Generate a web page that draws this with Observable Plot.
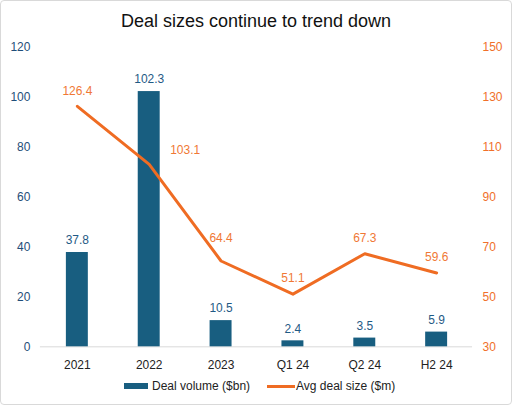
<!DOCTYPE html>
<html><head><meta charset="utf-8">
<script src="https://cdn.jsdelivr.net/npm/d3@7"></script>
<script src="https://cdn.jsdelivr.net/npm/@observablehq/plot@0.6"></script>
<style>
body{margin:0;background:#fff;font-family:"Liberation Sans",Arial,sans-serif;}
#wrap{position:relative;width:510px;height:403px;border:1px solid #d9d9d9;border-radius:4px;overflow:hidden;background:#fff}
#title{position:absolute;left:0;width:510px;top:10px;text-align:center;font-size:18px;color:#111}
#legend{position:absolute;left:0;top:377px;font-size:12px;color:#222;width:510px;height:16px}
#legend span{position:absolute}
#chart{position:absolute;left:-1px;top:-1px}
</style></head>
<body>
<div id="wrap">
<div id="chart"></div>
<div id="title">Deal sizes continue to trend down</div>
<div id="legend">
<span style="left:123px;top:5px;width:24px;height:6px;background:#185e80"></span><span style="left:151px;top:1px">Deal volume ($bn)</span>
<span style="left:266px;top:7px;width:28px;height:3px;background:#ef6c23"></span><span style="left:295px;top:1px">Avg deal size ($m)</span>
</div>
</div>
<script>
const categories = ["2021","2022","2023","Q1 24","Q2 24","H2 24"];
const dealVolume = [37.8,102.3,10.5,2.4,3.5,5.9];
const avgDealSize = [126.4,103.1,64.4,51.1,67.3,59.6];
const leftTicks = [0,20,40,60,80,100,120];
const rightTicks = [30,50,70,90,110,130,150];

const rightMin = 30;
const data = categories.map((c,i)=>({cat:c, vol:dealVolume[i], avg:avgDealSize[i]}));
const blue = "#185e80", orange = "#ef6c23";
const lblBlue = "#1f5a85", lblOrange = "#f07835";
const yR = d => d.avg - rightMin;
const fmt = v => v.toFixed(1);
const pick = (...cats) => data.filter(d => cats.includes(d.cat));

const chart = Plot.plot({
  width: 512, height: 405,
  marginTop: 47, marginBottom: 58, marginLeft: 40, marginRight: 39,
  style: {fontFamily: '"Liberation Sans", Arial, sans-serif', fontSize: "12px", background: "transparent"},
  x: {domain: categories, paddingInner: 0.7, paddingOuter: 0.35, label: null},
  y: {domain: [0,120], label: null},
  marks: [
    Plot.ruleY([0], {stroke: "#d9d9d9", strokeWidth: 1}),
    Plot.barY(data, {x: "cat", y: "vol", fill: blue}),
    Plot.line(data, {x: "cat", y: yR, stroke: orange, strokeWidth: 3}),
    Plot.text(data, {x: "cat", y: "vol", text: d => fmt(d.vol), dy: -12, fill: lblBlue, fontSize: 12}),
    Plot.text(pick("2021"), {x: "cat", y: yR, text: d => fmt(d.avg), dy: -15, fill: lblOrange, fontSize: 12}),
    Plot.text(pick("2022"), {x: "cat", y: yR, text: d => fmt(d.avg), dx: 36, dy: -14, fill: lblOrange, fontSize: 12}),
    Plot.text(pick("2023"), {x: "cat", y: yR, text: d => fmt(d.avg), dy: -23, fill: lblOrange, fontSize: 12}),
    Plot.text(pick("Q1 24","Q2 24","H2 24"), {x: "cat", y: yR, text: d => fmt(d.avg), dy: -16, fill: lblOrange, fontSize: 12}),
    Plot.axisX({tickSize: 0, tickPadding: 14, fill: "#222", fontSize: 12}),
    Plot.axisY({anchor: "left", ticks: leftTicks, tickSize: 0, tickPadding: 10, fill: "#1f4e79", fontSize: 12}),
    Plot.axisY({anchor: "right", ticks: rightTicks.map(t => t - rightMin), tickFormat: d => d + rightMin,
      tickSize: 0, tickPadding: 10, fill: "#f0702a", fontSize: 12})
  ]
});
document.getElementById("chart").appendChild(chart);
</script>
</body></html>
